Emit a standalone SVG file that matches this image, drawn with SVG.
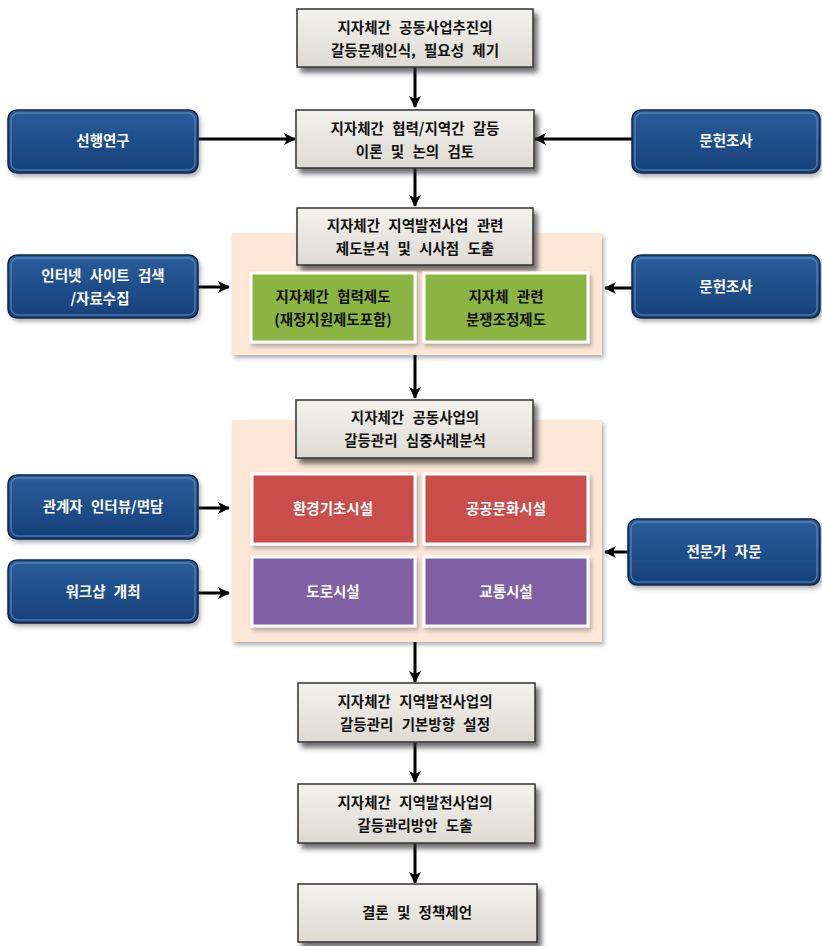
<svg xmlns="http://www.w3.org/2000/svg" width="822" height="946" viewBox="0 0 822 946">
<defs>
<linearGradient id="gGray" x1="0" y1="0" x2="0" y2="1"><stop offset="0" stop-color="#f3f2ee"/><stop offset="1" stop-color="#dddbd3"/></linearGradient>
<linearGradient id="gBlue" x1="0" y1="0" x2="0" y2="1"><stop offset="0" stop-color="#2b5d9c"/><stop offset="0.5" stop-color="#1f4f8a"/><stop offset="1" stop-color="#17407a"/></linearGradient>
<filter id="sh" x="-10%" y="-10%" width="130%" height="140%"><feDropShadow dx="4" dy="5" stdDeviation="2.5" flood-color="#333" flood-opacity="0.7"/></filter>
<filter id="shs" x="-10%" y="-10%" width="130%" height="140%"><feDropShadow dx="2" dy="3" stdDeviation="2" flood-color="#555" flood-opacity="0.45"/></filter>
<marker id="ah" viewBox="0 0 12 12" refX="11" refY="6" markerWidth="12" markerHeight="12" markerUnits="userSpaceOnUse" orient="auto"><path d="M0,0 L12,6 L0,12 L3,6 Z" fill="#000"/></marker>
</defs>
<style>
.gray{fill:url(#gGray);stroke:#333;stroke-width:1.5;filter:url(#sh)}
.blue{fill:url(#gBlue);stroke:#0e2747;stroke-width:1.5;filter:url(#shs)}
.hl{fill:none;stroke:#6f95c6;stroke-width:1.5;stroke-opacity:0.6}
.panel{fill:#fde8d8;filter:url(#shs)}
.green{fill:#8cb443;stroke:#fff;stroke-width:3;filter:url(#shs)}
.red{fill:#c84d4c;stroke:#fff;stroke-width:3;filter:url(#shs)}
.purple{fill:#8061a5;stroke:#fff;stroke-width:3;filter:url(#shs)}
text{font-family:"Noto Sans CJK KR","Noto Sans",sans-serif;font-weight:bold;font-size:14.5px;text-anchor:middle;word-spacing:5px}
.dk{fill:#111}
.wt{fill:#fff}
.cn line{stroke:#000;stroke-width:3;marker-end:url(#ah)}
</style>
<g id="panel1"><rect class="panel" x="232" y="233" width="370" height="122"/></g>
<g id="panel2"><rect class="panel" x="232" y="420" width="370" height="222"/></g>

<g class="cn" id="connectors">
<line x1="415" y1="67" x2="415" y2="107"/>
<line x1="415" y1="168" x2="415" y2="206"/>
<line x1="415" y1="355" x2="415" y2="398"/>
<line x1="415" y1="642" x2="415" y2="682"/>
<line x1="415" y1="742" x2="415" y2="782"/>
<line x1="415" y1="843" x2="415" y2="883"/>
<line x1="198" y1="139" x2="295" y2="139"/>
<line x1="632" y1="139" x2="535" y2="139"/>
<line x1="198" y1="287" x2="229" y2="287"/>
<line x1="632" y1="288" x2="605" y2="288"/>
<line x1="198" y1="508" x2="229" y2="508"/>
<line x1="198" y1="593" x2="229" y2="593"/>
<line x1="628" y1="552" x2="605" y2="552"/>
</g>

<g id="n1"><rect class="gray" x="297" y="9" width="236" height="58"/><text class="dk" x="415" y="33">지자체간 공동사업추진의</text><text class="dk" x="415" y="56">갈등문제인식, 필요성 제기</text></g>
<g id="n2"><rect class="gray" x="296" y="110" width="238" height="58"/><text class="dk" x="415" y="134">지자체간 협력/지역간 갈등</text><text class="dk" x="415" y="157">이론 및 논의 검토</text></g>
<g id="n3"><rect class="gray" x="297" y="208" width="236" height="57"/><text class="dk" x="415" y="231">지자체간 지역발전사업 관련</text><text class="dk" x="415" y="254">제도분석 및 시사점 도출</text></g>
<g id="n4"><rect class="gray" x="296" y="400" width="237" height="58"/><text class="dk" x="415" y="423">지자체간 공동사업의</text><text class="dk" x="415" y="446">갈등관리 심중사례분석</text></g>
<g id="n5"><rect class="gray" x="298" y="683" width="237" height="59"/><text class="dk" x="415" y="707">지자체간 지역발전사업의</text><text class="dk" x="415" y="730">갈등관리 기본방향 설정</text></g>
<g id="n6"><rect class="gray" x="298" y="784" width="237" height="59"/><text class="dk" x="415" y="808">지자체간 지역발전사업의</text><text class="dk" x="415" y="831">갈등관리방안 도출</text></g>
<g id="n7"><rect class="gray" x="298" y="884" width="239" height="58"/><text class="dk" x="417" y="918">결론 및 정책제언</text></g>

<g id="g1"><rect class="green" x="251" y="273" width="164" height="69"/><text class="dk" x="333" y="302">지자체간 협력제도</text><text class="dk" x="333" y="325">(재정지원제도포함)</text></g>
<g id="g2"><rect class="green" x="424" y="273" width="164" height="69"/><text class="dk" x="506" y="302">지자체 관련</text><text class="dk" x="506" y="325">분쟁조정제도</text></g>
<g id="r1"><rect class="red" x="252" y="474" width="163" height="70"/><text class="wt" x="333" y="514">환경기초시설</text></g>
<g id="r2"><rect class="red" x="424" y="474" width="164" height="70"/><text class="wt" x="506" y="514">공공문화시설</text></g>
<g id="p1"><rect class="purple" x="252" y="557" width="163" height="69"/><text class="wt" x="333" y="597">도로시설</text></g>
<g id="p2"><rect class="purple" x="424" y="557" width="164" height="69"/><text class="wt" x="506" y="597">교통시설</text></g>

<g id="b1"><rect class="blue" x="8" y="110" width="190" height="63" rx="9"/><rect class="hl" x="11" y="113" width="184" height="57" rx="7"/><text class="wt" x="103" y="146">선행연구</text></g>
<g id="b2"><rect class="blue" x="8" y="255" width="190" height="63" rx="9"/><rect class="hl" x="11" y="258" width="184" height="57" rx="7"/><text class="wt" x="103" y="281">인터넷 사이트 검색</text><text class="wt" x="100" y="304">/자료수집</text></g>
<g id="b3"><rect class="blue" x="8" y="475" width="190" height="64" rx="9"/><rect class="hl" x="11" y="478" width="184" height="58" rx="7"/><text class="wt" x="103" y="512">관계자 인터뷰/면담</text></g>
<g id="b4"><rect class="blue" x="8" y="560" width="190" height="63" rx="9"/><rect class="hl" x="11" y="563" width="184" height="57" rx="7"/><text class="wt" x="103" y="597">워크샵 개최</text></g>
<g id="b5"><rect class="blue" x="632" y="110" width="188" height="63" rx="9"/><rect class="hl" x="635" y="113" width="182" height="57" rx="7"/><text class="wt" x="726" y="146">문헌조사</text></g>
<g id="b6"><rect class="blue" x="632" y="255" width="188" height="63" rx="9"/><rect class="hl" x="635" y="258" width="182" height="57" rx="7"/><text class="wt" x="726" y="292">문헌조사</text></g>
<g id="b7"><rect class="blue" x="628" y="519" width="192" height="66" rx="9"/><rect class="hl" x="631" y="522" width="186" height="60" rx="7"/><text class="wt" x="724" y="557">전문가 자문</text></g>
</svg>
